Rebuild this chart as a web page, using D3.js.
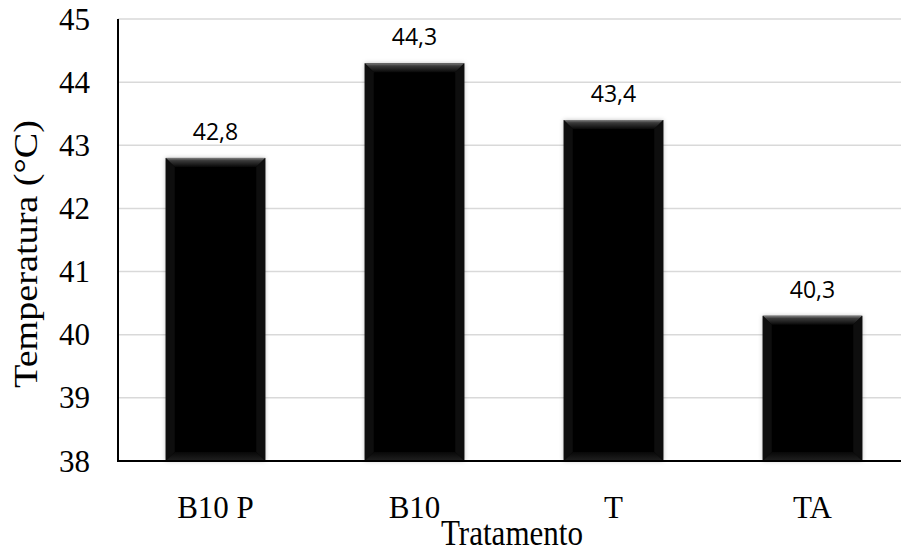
<!DOCTYPE html>
<html><head><meta charset="utf-8">
<script src="https://cdn.jsdelivr.net/npm/d3@7"></script>
<style>body{margin:0;background:#fff}svg{display:block}</style>
</head><body>
<script>
const categories = ["B10 P", "B10", "T", "TA"];
const values = [42.8, 44.3, 43.4, 40.3];
const valueLabels = ["42,8", "44,3", "43,4", "40,3"];
const yTicks = [38, 39, 40, 41, 42, 43, 44, 45];
const xTitle = "Tratamento";
const yTitle = "Temperatura (°C)";

const W = 901, H = 554;
const svg = d3.select("body").append("svg").attr("width", W).attr("height", H);
const axisX = 118, plotRight = 901;
const y = d3.scaleLinear().domain([38, 45]).range([461, 19]);
const x = d3.scaleBand().domain(categories).range([116, 912]).paddingInner(0.5).paddingOuter(0.25);

const defs = svg.append("defs");
const gTop = defs.append("linearGradient").attr("id", "gTop").attr("x1", 0).attr("y1", 0).attr("x2", 0).attr("y2", 1);
gTop.append("stop").attr("offset", 0).attr("stop-color", "#808080");
gTop.append("stop").attr("offset", 0.3).attr("stop-color", "#3a3a3a");
gTop.append("stop").attr("offset", 1).attr("stop-color", "#080808");
const gBot = defs.append("linearGradient").attr("id", "gBot").attr("x1", 0).attr("y1", 0).attr("x2", 0).attr("y2", 1);
gBot.append("stop").attr("offset", 0).attr("stop-color", "#080808");
gBot.append("stop").attr("offset", 1).attr("stop-color", "#202020");
const f = defs.append("filter").attr("id", "sh").attr("x", "-20%").attr("y", "-20%").attr("width", "140%").attr("height", "140%");
f.append("feDropShadow").attr("dx", 0).attr("dy", 0).attr("stdDeviation", 2).attr("flood-color", "#000").attr("flood-opacity", 0.25);

// gridlines
svg.append("g").selectAll("line").data(yTicks.filter(t => t > 38)).join("line")
  .attr("x1", axisX).attr("x2", plotRight)
  .attr("y1", d => y(d)).attr("y2", d => y(d))
  .attr("stroke", "#d9d9d9").attr("stroke-width", 1.5);

// bars
const bev = 9;
const bars = svg.append("g").selectAll("g").data(categories).join("g");
bars.each(function(c, i) {
  const g = d3.select(this);
  const x0 = x(c), w = x.bandwidth(), x1 = x0 + w;
  const yt = y(values[i]), yb = y(38);
  g.append("rect").attr("x", x0).attr("y", yt).attr("width", w).attr("height", yb - yt)
    .attr("fill", "#050505").attr("filter", "url(#sh)");
  g.append("polygon").attr("points", [[x0, yt], [x1, yt], [x1 - bev, yt + bev], [x0 + bev, yt + bev]].join(" "))
    .attr("fill", "url(#gTop)");
  g.append("polygon").attr("points", [[x0, yt], [x0 + bev, yt + bev], [x0 + bev, yb - bev], [x0, yb]].join(" "))
    .attr("fill", "#0e0e0e");
  g.append("polygon").attr("points", [[x1, yt], [x1 - bev, yt + bev], [x1 - bev, yb - bev], [x1, yb]].join(" "))
    .attr("fill", "#0e0e0e");
  g.append("polygon").attr("points", [[x0, yb], [x0 + bev, yb - bev], [x1 - bev, yb - bev], [x1, yb]].join(" "))
    .attr("fill", "url(#gBot)");
});

// value labels
svg.append("g").selectAll("text").data(categories).join("text")
  .attr("x", c => x(c) + x.bandwidth() / 2)
  .attr("y", (c, i) => y(values[i]) - 18)
  .attr("text-anchor", "middle")
  .attr("font-family", "'Open Sans', sans-serif").attr("font-size", 23).attr("fill", "#000")
  .text((c, i) => valueLabels[i]);

// axes lines
svg.append("line").attr("x1", axisX).attr("x2", axisX).attr("y1", y(45)).attr("y2", y(38) + 1)
  .attr("stroke", "#000").attr("stroke-width", 2);
svg.append("line").attr("x1", axisX - 1).attr("x2", plotRight).attr("y1", y(38)).attr("y2", y(38))
  .attr("stroke", "#000").attr("stroke-width", 2);

// y tick labels
svg.append("g").selectAll("text").data(yTicks).join("text")
  .attr("x", 90).attr("y", d => y(d)).attr("dy", "0.34em")
  .attr("text-anchor", "end")
  .attr("font-family", "'Liberation Serif', 'Times New Roman', serif").attr("font-size", 31).attr("fill", "#000")
  .text(d => d);

// x tick labels
svg.append("g").selectAll("text").data(categories).join("text")
  .attr("x", c => x(c) + x.bandwidth() / 2).attr("y", 518)
  .attr("text-anchor", "middle")
  .attr("font-family", "'Liberation Serif', 'Times New Roman', serif").attr("font-size", 31).attr("fill", "#000")
  .text(d => d);

// titles
svg.append("text").attr("x", 512).attr("y", 545).attr("text-anchor", "middle")
  .attr("font-family", "'Liberation Serif', 'Times New Roman', serif").attr("font-size", 35)
  .attr("textLength", 142).attr("lengthAdjust", "spacingAndGlyphs")
  .text(xTitle);
svg.append("text").attr("transform", "translate(37,254) rotate(-90)").attr("text-anchor", "middle")
  .attr("font-family", "'Liberation Serif', 'Times New Roman', serif").attr("font-size", 34)
  .attr("textLength", 268).attr("lengthAdjust", "spacingAndGlyphs")
  .text(yTitle);
</script>
</body></html>
